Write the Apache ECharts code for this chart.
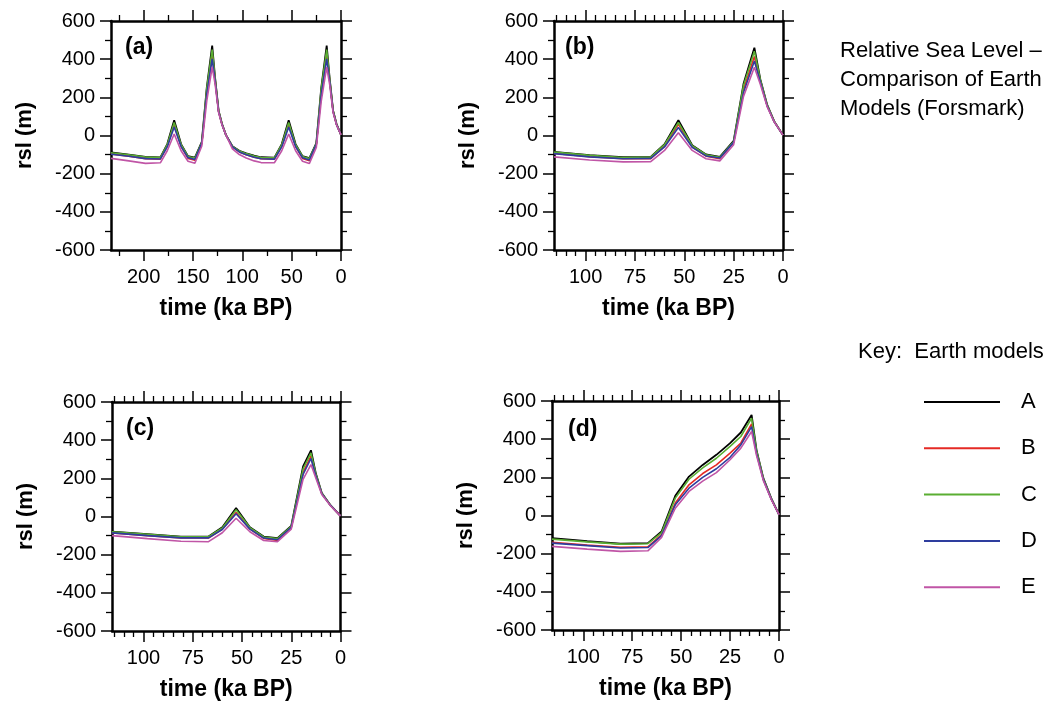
<!DOCTYPE html>
<html><head><meta charset="utf-8">
<script src="https://cdn.jsdelivr.net/npm/echarts@6/dist/echarts.min.js"></script>
<style>html,body{margin:0;padding:0;background:#fff}#c{width:1063px;height:706px}</style>
</head><body><div id="c"></div>
<script>
// ---------------- data ----------------
const modelNames = ['A', 'B', 'C', 'D', 'E'];
const modelColors = ['#000000', '#e52a25', '#5aae32', '#2e3d9e', '#c055a6'];
const panelLabels = ['(a)', '(b)', '(c)', '(d)'];
const titleText = 'Relative Sea Level –\nComparison of Earth\nModels (Forsmark)';
const keyText = 'Key:  Earth models';
const xName = 'time (ka BP)';
const yName = 'rsl (m)';
const yTicks = [-600, -400, -200, 0, 200, 400, 600];
const xTicksA = [0, 50, 100, 150, 200];
const xTicksB = [0, 25, 50, 75, 100];

// panel (a): two glacial cycles
const timeA = [233, 215, 198, 183, 176, 169, 162, 155, 148, 141, 136, 130.5, 127.5, 124, 120.5, 116.5,
  110, 103, 96, 88, 81, 67.5, 60, 53, 46, 39, 32, 25, 20, 14.5, 11.5, 8, 4.5, 0];
const a_A = [-89, -100, -112, -115, -45, 80, -45, -108, -116, -33, 250, 471, 300, 130, 60, 2,
  -56, -80, -94, -106, -114, -116, -45, 80, -45, -108, -118, -40, 250, 471, 300, 130, 60, 3];
const a_B = [-97, -109, -121, -124, -55, 58, -57, -120, -130, -42, 225, 425, 290, 127, 58, 2,
  -60, -86, -101, -114, -122, -124, -55, 58, -57, -120, -132, -48, 225, 425, 290, 127, 58, 3];
const a_C = [-90, -101, -113, -116, -48, 68, -48, -110, -118, -36, 245, 450, 298, 130, 60, 2,
  -57, -81, -95, -107, -115, -117, -48, 68, -48, -110, -120, -42, 245, 450, 298, 130, 60, 3];
const a_D = [-98, -109, -121, -123, -60, 44, -58, -116, -126, -40, 215, 402, 285, 125, 57, 2,
  -60, -86, -101, -114, -122, -124, -60, 44, -58, -116, -128, -46, 215, 402, 285, 125, 57, 3];
const a_E = [-120, -133, -146, -143, -80, 8, -80, -135, -145, -55, 180, 358, 268, 120, 55, 2,
  -70, -100, -118, -133, -142, -143, -80, 8, -80, -135, -147, -62, 180, 358, 268, 120, 55, 3];

// panel (b)
const timeB = [116, 98, 81, 67, 60, 53, 46, 39, 32, 25, 20, 14.5, 11.5, 8, 4.5, 0];
const b_A = [-86, -103, -114, -112, -45, 80, -51, -99, -112, -28, 271, 460, 295, 160, 75, 2];
const b_B = [-94, -111, -122, -121, -56, 59, -60, -108, -121, -37, 240, 414, 285, 156, 74, 2];
const b_C = [-87, -104, -115, -113, -48, 68, -53, -101, -114, -31, 262, 442, 293, 159, 75, 2];
const b_D = [-95, -112, -122, -120, -60, 42, -62, -107, -118, -36, 225, 390, 280, 154, 73, 2];
const b_E = [-112, -128, -138, -137, -78, 14, -78, -122, -133, -48, 205, 358, 268, 150, 72, 2];

// panel (c)
const timeC = [116, 98, 81, 67, 60, 53, 46, 39, 32, 25, 19, 15, 12.5, 9.5, 5, 0];
const c_A = [-79, -92, -105, -105, -56, 44, -56, -105, -114, -49, 263, 347, 225, 123, 58, 3];
const c_B = [-86, -100, -113, -113, -66, 21, -65, -115, -126, -58, 230, 316, 215, 120, 57, 3];
const c_C = [-80, -93, -106, -106, -60, 35, -58, -107, -116, -52, 250, 333, 222, 122, 58, 3];
const c_D = [-86, -100, -112, -112, -68, 14, -66, -113, -122, -57, 220, 304, 212, 119, 57, 3];
const c_E = [-100, -116, -130, -132, -85, -9, -80, -126, -132, -66, 195, 272, 200, 115, 55, 3];

// panel (d)
const timeD = [116, 98, 81, 67, 60, 53, 46, 39, 32, 25, 19.5, 14, 11.5, 8, 4, 0];
const d_A = [-119, -135, -148, -145, -84, 103, 204, 265, 318, 379, 435, 527, 344, 196, 91, 5];
const d_B = [-140, -155, -166, -164, -100, 65, 161, 220, 265, 327, 380, 480, 330, 190, 88, 5];
const d_C = [-124, -138, -150, -148, -90, 91, 190, 250, 300, 362, 414, 510, 340, 194, 90, 5];
const d_D = [-145, -158, -170, -168, -105, 56, 143, 200, 245, 305, 370, 466, 325, 188, 87, 5];
const d_E = [-162, -176, -188, -185, -115, 38, 126, 180, 225, 292, 353, 440, 315, 183, 85, 5];

// ---------------- layout ----------------
const FONT = '"Liberation Sans", Arial, Helvetica, sans-serif';
const panels = [
  { grid: { left: 111, top: 21, width: 230, height: 229 }, tmax: 233, interval: 50, minor: 2, ticks: xTicksA,
    time: timeA, vals: [a_A, a_B, a_C, a_D, a_E], label: { left: 125, top: 36 } },
  { grid: { left: 554, top: 21, width: 229, height: 229 }, tmax: 116, interval: 25, minor: 5, ticks: xTicksB,
    time: timeB, vals: [b_A, b_B, b_C, b_D, b_E], label: { left: 565, top: 36 } },
  { grid: { left: 112, top: 402, width: 228.5, height: 229 }, tmax: 116, interval: 25, minor: 5, ticks: xTicksB,
    time: timeC, vals: [c_A, c_B, c_C, c_D, c_E], label: { left: 126, top: 417 } },
  { grid: { left: 552, top: 401, width: 227, height: 229 }, tmax: 116, interval: 25, minor: 5, ticks: xTicksB,
    time: timeD, vals: [d_A, d_B, d_C, d_D, d_E], label: { left: 568, top: 418 } }
];

const grids = [], xAxes = [], yAxes = [], series = [], titles = [];
const lineAx = { show: true, onZero: false, lineStyle: { color: '#000', width: 2.5 } };
const tickSty = { color: '#000', width: 1.5 };
const minorSty = { color: '#000', width: 1.3 };

panels.forEach((p, i) => {
  grids.push(Object.assign({ containLabel: false }, p.grid));
  ['bottom', 'top'].forEach(pos => {
    xAxes.push({
      type: 'value', gridIndex: i, position: pos, min: 0, max: p.tmax, inverse: true, interval: p.interval,
      axisLine: lineAx,
      axisTick: { show: true, inside: false, length: 11, lineStyle: tickSty, customValues: p.ticks },
      minorTick: { show: true, splitNumber: p.minor, length: 6, lineStyle: minorSty },
      axisLabel: { show: pos === 'bottom', margin: 17, fontSize: 20, color: '#000', fontFamily: FONT,
        customValues: p.ticks, formatter: v => (v % p.interval === 0 ? String(v) : '') },
      splitLine: { show: false }, minorSplitLine: { show: false },
      name: pos === 'bottom' ? xName : '', nameLocation: 'middle', nameGap: 47,
      nameTextStyle: { fontSize: 23, fontWeight: 'bold', color: '#000', fontFamily: FONT }
    });
  });
  ['left', 'right'].forEach(pos => {
    yAxes.push({
      type: 'value', gridIndex: i, position: pos, min: -600, max: 600, interval: 200,
      axisLine: lineAx,
      axisTick: { show: true, inside: false, length: 11, lineStyle: tickSty },
      minorTick: { show: true, splitNumber: 2, length: 6, lineStyle: minorSty },
      axisLabel: { show: pos === 'left', margin: 16, fontSize: 20, color: '#000', fontFamily: FONT,
        showMinLabel: true, showMaxLabel: true },
      splitLine: { show: false }, minorSplitLine: { show: false },
      name: pos === 'left' ? yName : '', nameLocation: 'middle', nameGap: 75, nameRotate: 90,
      nameTextStyle: { fontSize: 22, fontWeight: 'bold', color: '#000', fontFamily: FONT }
    });
  });
  modelNames.forEach((m, k) => {
    series.push({
      type: 'line', name: m, xAxisIndex: 2 * i, yAxisIndex: 2 * i,
      data: p.time.map((t, j) => [t, p.vals[k][j]]),
      symbol: 'none', showSymbol: false, color: modelColors[k],
      lineStyle: { color: modelColors[k], width: k === 0 ? 1.8 : 1.6 },
      silent: true, z: 2 + k
    });
  });
  titles.push({ text: panelLabels[i], left: p.label.left, top: p.label.top, padding: 0,
    textStyle: { fontSize: 23, fontWeight: 'bold', color: '#000', fontFamily: FONT } });
});

titles.push({ text: titleText, left: 840, top: 36, padding: 0,
  textStyle: { fontSize: 22, fontWeight: 'normal', color: '#000', lineHeight: 29, fontFamily: FONT } });
titles.push({ text: keyText, left: 858, top: 341, padding: 0,
  textStyle: { fontSize: 22, fontWeight: 'normal', color: '#000', fontFamily: FONT } });

const chart = echarts.init(document.getElementById('c'), null, { renderer: 'canvas' });
chart.setOption({
  animation: false,
  backgroundColor: '#fff',
  textStyle: { fontFamily: FONT },
  title: titles,
  legend: {
    data: modelNames.map(n => ({ name: n, icon: 'rect' })), orient: 'vertical', left: 924, top: 391, padding: 0,
    itemWidth: 76, itemHeight: 2, itemGap: 24.3, selectedMode: false,
    textStyle: { fontSize: 22, color: '#000', lineHeight: 22, padding: [0, 0, 0, 16], fontFamily: FONT }
  },
  grid: grids, xAxis: xAxes, yAxis: yAxes, series: series
});
</script></body></html>
